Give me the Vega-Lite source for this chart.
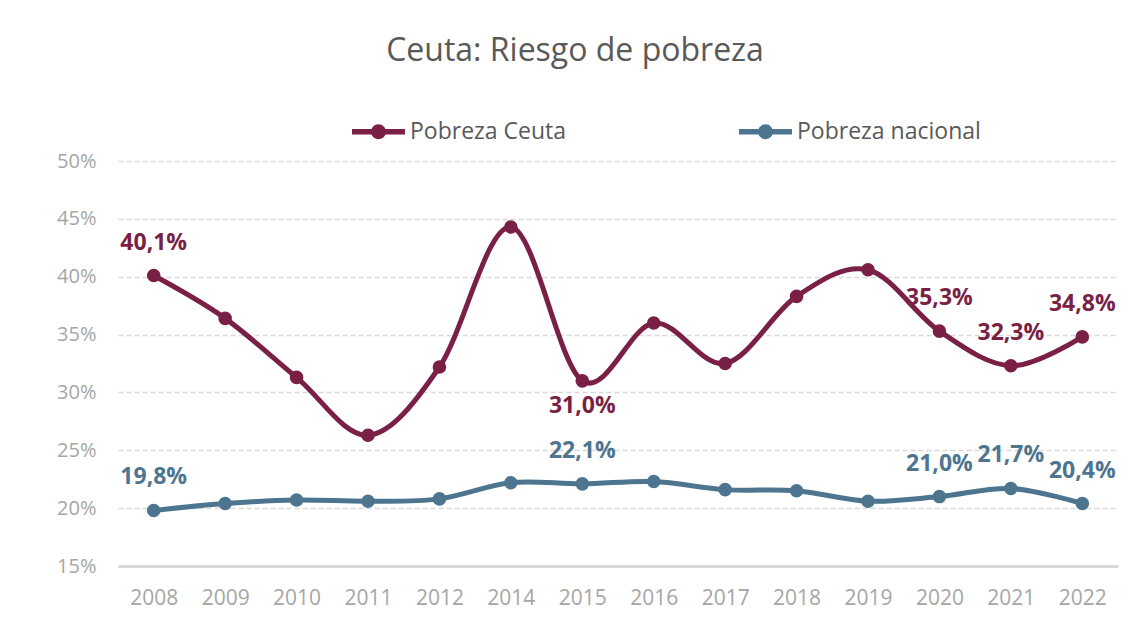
{
  "$schema": "https://vega.github.io/schema/vega-lite/v6.json",
  "width": 1000,
  "height": 405,
  "autosize": {"type": "none"},
  "padding": {"left": 118, "top": 161, "right": 25, "bottom": 56},
  "background": "white",
  "config": {
    "locale": {"number": {"decimal": ",", "thousands": ".", "grouping": [3], "currency": ["", " €"]}},
    "view": {"stroke": null},
    "font": "Open Sans"
  },
  "title": {
    "text": "Ceuta: Riesgo de pobreza",
    "fontSize": 32,
    "fontWeight": "normal",
    "color": "#595959",
    "font": "Open Sans",
    "anchor": "middle",
    "dx": -43,
    "offset": 37
  },
  "data": {
    "values": [
      {"year": "2008", "serie": "Pobreza Ceuta", "value": 0.401},
      {"year": "2009", "serie": "Pobreza Ceuta", "value": 0.364},
      {"year": "2010", "serie": "Pobreza Ceuta", "value": 0.313},
      {"year": "2011", "serie": "Pobreza Ceuta", "value": 0.263},
      {"year": "2012", "serie": "Pobreza Ceuta", "value": 0.322},
      {"year": "2014", "serie": "Pobreza Ceuta", "value": 0.443},
      {"year": "2015", "serie": "Pobreza Ceuta", "value": 0.310},
      {"year": "2016", "serie": "Pobreza Ceuta", "value": 0.360},
      {"year": "2017", "serie": "Pobreza Ceuta", "value": 0.325},
      {"year": "2018", "serie": "Pobreza Ceuta", "value": 0.383},
      {"year": "2019", "serie": "Pobreza Ceuta", "value": 0.406},
      {"year": "2020", "serie": "Pobreza Ceuta", "value": 0.353},
      {"year": "2021", "serie": "Pobreza Ceuta", "value": 0.323},
      {"year": "2022", "serie": "Pobreza Ceuta", "value": 0.348},
      {"year": "2008", "serie": "Pobreza nacional", "value": 0.198},
      {"year": "2009", "serie": "Pobreza nacional", "value": 0.204},
      {"year": "2010", "serie": "Pobreza nacional", "value": 0.207},
      {"year": "2011", "serie": "Pobreza nacional", "value": 0.206},
      {"year": "2012", "serie": "Pobreza nacional", "value": 0.208},
      {"year": "2014", "serie": "Pobreza nacional", "value": 0.222},
      {"year": "2015", "serie": "Pobreza nacional", "value": 0.221},
      {"year": "2016", "serie": "Pobreza nacional", "value": 0.223},
      {"year": "2017", "serie": "Pobreza nacional", "value": 0.216},
      {"year": "2018", "serie": "Pobreza nacional", "value": 0.215},
      {"year": "2019", "serie": "Pobreza nacional", "value": 0.206},
      {"year": "2020", "serie": "Pobreza nacional", "value": 0.210},
      {"year": "2021", "serie": "Pobreza nacional", "value": 0.217},
      {"year": "2022", "serie": "Pobreza nacional", "value": 0.204}
    ]
  },
  "encoding": {
    "x": {
      "field": "year",
      "type": "ordinal",
      "scale": {"type": "point", "padding": 0.5},
      "axis": {
        "title": null,
        "labelAngle": 0,
        "labelFont": "Open Sans",
        "labelFontSize": 21,
        "labelColor": "#a6a6a6",
        "labelPadding": 21,
        "ticks": false,
        "domainColor": "#d9d9d9",
        "domainWidth": 3,
        "grid": false
      }
    },
    "y": {
      "field": "value",
      "type": "quantitative",
      "scale": {"domain": [0.15, 0.5], "nice": false, "zero": false},
      "axis": {
        "title": null,
        "format": ".0%",
        "values": [0.15, 0.2, 0.25, 0.3, 0.35, 0.4, 0.45, 0.5],
        "labelFont": "Open Sans",
        "labelFontSize": 20,
        "labelColor": "#a6a6a6",
        "labelPadding": 22,
        "ticks": false,
        "domain": false,
        "grid": true,
        "gridColor": "#d9d9d9",
        "gridDash": [5, 3],
        "gridWidth": 1.3
      }
    },
    "color": {
      "field": "serie",
      "type": "nominal",
      "scale": {"domain": ["Pobreza Ceuta", "Pobreza nacional"], "range": ["#7a1f45", "#4e7590"]},
      "legend": {
        "title": null,
        "orient": "none",
        "legendX": 234,
        "legendY": -56,
        "direction": "horizontal",
        "columnPadding": 172,
        "symbolType": "M-1,-0.1H1V0.1H-1Z M-0.28,0A0.28,0.28 0 1,1 0.28,0A0.28,0.28 0 1,1 -0.28,0Z",
        "symbolSize": 2809,
        "symbolStrokeWidth": 0,
        "labelFont": "Open Sans",
        "labelFontSize": 23,
        "labelColor": "#595959",
        "labelOffset": 5,
        "labelLimit": 400
      }
    }
  },
  "layer": [
    {
      "mark": {"type": "point", "filled": true, "size": 185, "opacity": 1}
    },
    {
      "mark": {"type": "line", "interpolate": "cardinal", "strokeWidth": 5}
    },
    {
      "transform": [
        {"filter": "(datum.serie == 'Pobreza Ceuta' && indexof(['2008','2020','2021','2022'], datum.year) >= 0) || (datum.serie == 'Pobreza nacional' && indexof(['2008','2015','2020','2021','2022'], datum.year) >= 0)"}
      ],
      "mark": {"type": "text", "fontSize": 23, "fontWeight": "bold", "font": "Open Sans", "dy": -33, "baseline": "middle"},
      "encoding": {
        "text": {"field": "value", "type": "quantitative", "format": ".1%"},
        "color": {"field": "serie", "type": "nominal", "legend": null}
      }
    },
    {
      "transform": [
        {"filter": "datum.serie == 'Pobreza Ceuta' && datum.year == '2015'"}
      ],
      "mark": {"type": "text", "fontSize": 23, "fontWeight": "bold", "font": "Open Sans", "dy": 25, "baseline": "middle"},
      "encoding": {
        "text": {"field": "value", "type": "quantitative", "format": ".1%"},
        "color": {"field": "serie", "type": "nominal", "legend": null}
      }
    }
  ]
}
